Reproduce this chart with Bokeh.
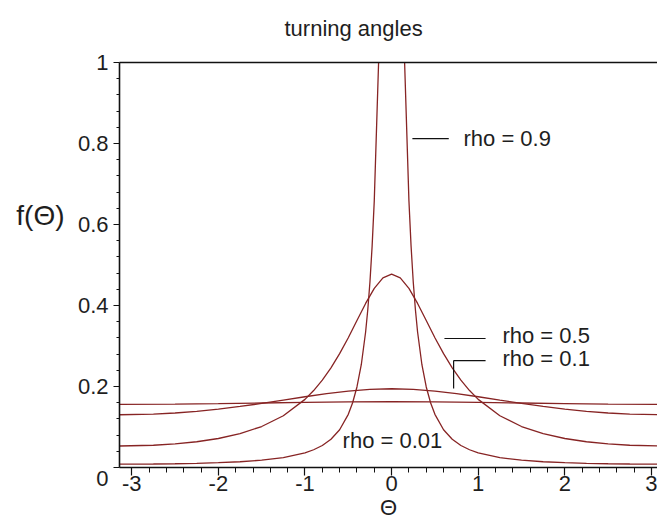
import math
from bokeh.plotting import figure
from bokeh.models import Range1d, FixedTicker, LinearAxis, Label
from bokeh.embed import file_html
from bokeh.resources import INLINE

# ---- data (wrapped-Cauchy turning-angle densities) ----
theta_09 = [-3.1416, -2.75, -2.5, -2.25, -2.0, -1.75, -1.5, -1.25, -1.0, -0.9, -0.8, -0.7, -0.6, -0.5,
            -0.45, -0.4, -0.35, -0.3, -0.275, -0.25, -0.225, -0.2, -0.15, -0.1, -0.05, 0.0,
            0.05, 0.1, 0.15, 0.2, 0.225, 0.25, 0.275, 0.3, 0.35, 0.4, 0.45, 0.5, 0.6, 0.7, 0.8, 0.9,
            1.0, 1.25, 1.5, 1.75, 2.0, 2.25, 2.5, 2.75, 3.1416]
f_09 = [0.0084, 0.0087, 0.0093, 0.0103, 0.0118, 0.0142, 0.0180, 0.0243, 0.0361, 0.0438, 0.0544, 0.0698,
        0.0932, 0.1313, 0.1598, 0.1988, 0.2538, 0.3345, 0.3895, 0.458, 0.546, 0.659, 1.001, 1.592, 2.469,
        3.024,
        2.469, 1.592, 1.001, 0.659, 0.546, 0.458, 0.3895, 0.3345, 0.2538, 0.1988, 0.1598, 0.1313, 0.0932,
        0.0698, 0.0544, 0.0438, 0.0361, 0.0243, 0.0180, 0.0142, 0.0118, 0.0103, 0.0093, 0.0087, 0.0084]

theta_05 = [-3.1416, -2.75, -2.5, -2.25, -2.0, -1.75, -1.5, -1.25, -1.0, -0.9, -0.8, -0.7, -0.6, -0.5,
            -0.4, -0.3, -0.2, -0.1, 0.0, 0.1, 0.2, 0.3, 0.4, 0.5, 0.6, 0.7, 0.8, 0.9, 1.0, 1.25, 1.5,
            1.75, 2.0, 2.25, 2.5, 2.75, 3.1416]
f_05 = [0.0531, 0.0549, 0.0582, 0.0636, 0.0716, 0.0836, 0.1012, 0.1277, 0.1682, 0.1900, 0.2157, 0.2460,
        0.2811, 0.3205, 0.3629, 0.4051, 0.4422, 0.4681, 0.4775, 0.4681, 0.4422, 0.4051, 0.3629, 0.3205,
        0.2811, 0.2460, 0.2157, 0.1900, 0.1682, 0.1277, 0.1012, 0.0836, 0.0716, 0.0636, 0.0582, 0.0549,
        0.0531]

theta_01 = [-3.1416, -2.75, -2.5, -2.25, -2.0, -1.75, -1.5, -1.25, -1.0, -0.75, -0.5, -0.25, 0.0,
            0.25, 0.5, 0.75, 1.0, 1.25, 1.5, 1.75, 2.0, 2.25, 2.5, 2.75, 3.1416]
f_01 = [0.1302, 0.1319, 0.1346, 0.1387, 0.1441, 0.1507, 0.1582, 0.1664, 0.1747, 0.1824, 0.1888, 0.1930,
        0.1945, 0.1930, 0.1888, 0.1824, 0.1747, 0.1664, 0.1582, 0.1507, 0.1441, 0.1387, 0.1346, 0.1319,
        0.1302]

theta_001 = [-3.1416, -2.5, -2.0, -1.5, -1.0, -0.5, 0.0, 0.5, 1.0, 1.5, 2.0, 2.5, 3.1416]
f_001 = [0.1560, 0.1566, 0.1578, 0.1593, 0.1609, 0.1620, 0.1624, 0.1620, 0.1609, 0.1593, 0.1578, 0.1566,
         0.1560]

curve_labels = ["rho = 0.9", "rho = 0.5", "rho = 0.1", "rho = 0.01"]

x_ticks = [-3, -2, -1, 0, 1, 2, 3]
x_tick_labels = ["-3", "-2", "-1", "0", "1", "2", "3"]
y_ticks = [0, 0.2, 0.4, 0.6, 0.8, 1.0]

title_text = "turning angles"
x_label = "Θ"
y_label = "f(Θ)"

# ---- figure ----
FONT = "Liberation Sans"
TXT = "#1e1e1e"
LINE = "#872424"

p = figure(width=657, height=523, output_backend="svg", toolbar_location=None,
           x_range=Range1d(-math.pi, 3.07), y_range=Range1d(0, 1),
           min_border_left=119, min_border_right=0, min_border_top=62, min_border_bottom=56,
           x_axis_type=None, y_axis_type=None)
p.outline_line_color = None
p.background_fill_color = "white"
p.border_fill_color = "white"
p.xgrid.visible = False
p.ygrid.visible = False

minor_x = [round(-3.0 + 0.2 * k, 2) for k in range(31) if (k % 5) != 0]
minor_y = [round(0.04 * k, 2) for k in range(26) if (k % 5) != 0]

xax = LinearAxis(ticker=FixedTicker(ticks=x_ticks, minor_ticks=minor_x),
                 major_label_overrides=dict(zip(x_ticks, x_tick_labels)))
yax = LinearAxis(ticker=FixedTicker(ticks=y_ticks, minor_ticks=minor_y),
                 major_label_overrides={0: "\n0"})
for ax in (xax, yax):
    ax.axis_line_color = "#111111"
    ax.axis_line_width = 1.6
    ax.major_tick_line_color = "#111111"
    ax.minor_tick_line_color = "#111111"
    ax.major_tick_line_width = 1.2
    ax.minor_tick_line_width = 1.0
    ax.major_tick_in = 0
    ax.minor_tick_in = 0
    ax.major_label_text_font = FONT
    ax.major_label_text_font_size = "22px"
    ax.major_label_text_color = TXT
xax.major_tick_out = 8
xax.minor_tick_out = 5
xax.major_label_standoff = 0
xax.axis_label = x_label
xax.axis_label_text_font = FONT
xax.axis_label_text_font_size = "22px"
xax.axis_label_text_font_style = "normal"
xax.axis_label_text_color = TXT
xax.axis_label_standoff = 1
yax.major_tick_out = 6
yax.minor_tick_out = 3
yax.major_label_standoff = 5
yax.major_label_text_line_height = 0.85
p.add_layout(xax, "below")
p.add_layout(yax, "left")

# second left axis only carries the horizontal y-axis label
ylab_pos = 0.622
ylab_ax = LinearAxis(ticker=FixedTicker(ticks=[ylab_pos], minor_ticks=[]),
                     major_label_overrides={ylab_pos: y_label},
                     axis_line_color=None, major_tick_line_color=None, minor_tick_line_color=None,
                     major_label_text_font=FONT, major_label_text_font_size="28px",
                     major_label_text_color=TXT, major_label_standoff=4)
p.add_layout(ylab_ax, "left")

# top border line, carrying the title as its only label
title_pos = -0.439
top = LinearAxis(ticker=FixedTicker(ticks=[title_pos], minor_ticks=[]),
                 major_label_overrides={title_pos: title_text},
                 major_tick_line_color=None, minor_tick_line_color=None,
                 major_label_text_font=FONT, major_label_text_font_size="22px",
                 major_label_text_color=TXT, major_label_standoff=16,
                 axis_line_color="#111111", axis_line_width=1.6)
p.add_layout(top, "above")

for xs, ys in ((theta_09, f_09), (theta_05, f_05), (theta_01, f_01), (theta_001, f_001)):
    p.line(xs, ys, line_color=LINE, line_width=1.3)

# leader lines for the curve labels
lead_x0 = [0.24, 0.61, 0.716, 0.716]
lead_x1 = [0.66, 1.085, 1.085, 0.716]
lead_y0 = [0.812, 0.3185, 0.264, 0.264]
lead_y1 = [0.812, 0.3185, 0.264, 0.195]
p.segment(lead_x0, lead_y0, lead_x1, lead_y1, line_color="#111111", line_width=1.2)

lab_x = [0.83, 1.28, 1.28, -0.566]
lab_y = [0.812, 0.326, 0.268, 0.067]
for t, lx, ly in zip(curve_labels, lab_x, lab_y):
    p.add_layout(Label(x=lx, y=ly, text=t, text_font=FONT, text_font_size="22px",
                       text_color=TXT, text_align="left", text_baseline="middle"))

open("out.html", "w").write(file_html(p, INLINE))
